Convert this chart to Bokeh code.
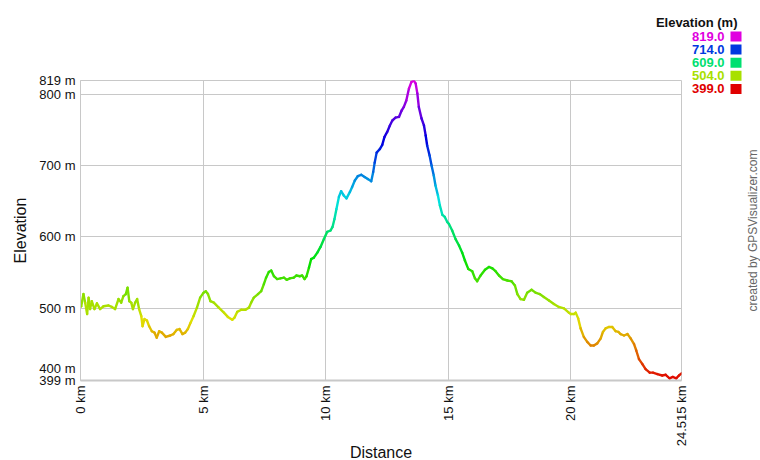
import colorsys
import math
from bokeh.plotting import figure
from bokeh.models import Range1d, FixedTicker, ColumnDataSource, GridBox
from bokeh.core.properties import value
from bokeh.embed import file_html
from bokeh.resources import INLINE

# ---- data ----
distance_km = [
    0.00, 0.03, 0.12, 0.19, 0.27, 0.33, 0.39, 0.46, 0.57, 0.67, 0.80, 0.94, 1.14, 1.28, 1.41,
    1.55, 1.66, 1.75, 1.85, 1.92, 1.99, 2.07, 2.14, 2.23, 2.31, 2.39, 2.48, 2.53, 2.61, 2.71,
    2.80, 2.91, 3.02, 3.11, 3.21, 3.32, 3.48, 3.66, 3.79, 3.93, 4.04, 4.16, 4.27, 4.38, 4.49,
    4.61, 4.75, 4.88, 5.02, 5.11, 5.20, 5.30, 5.44, 5.64, 5.85, 6.01, 6.19, 6.28, 6.39, 6.56,
    6.73, 6.87, 6.96, 7.07, 7.24, 7.37, 7.48, 7.57, 7.68, 7.78, 7.89, 8.02, 8.16, 8.30, 8.41,
    8.54, 8.70, 8.81, 8.95, 9.04, 9.14, 9.22, 9.32, 9.41, 9.52, 9.66, 9.79, 9.93, 10.06, 10.20,
    10.28, 10.36, 10.44, 10.54, 10.63, 10.74, 10.85, 10.99, 11.08, 11.19, 11.31, 11.45, 11.59,
    11.72, 11.86, 11.94, 12.00, 12.08, 12.21, 12.31, 12.40, 12.51, 12.62, 12.72, 12.85, 12.99,
    13.10, 13.19, 13.29, 13.40, 13.50, 13.59, 13.67, 13.74, 13.80, 13.91, 14.01, 14.08, 14.14,
    14.24, 14.32, 14.41, 14.48, 14.58, 14.66, 14.76, 14.86, 14.96, 15.03, 15.16, 15.30, 15.44,
    15.57, 15.68, 15.82, 15.98, 16.09, 16.18, 16.32, 16.50, 16.66, 16.80, 16.93, 17.07, 17.23,
    17.41, 17.58, 17.72, 17.82, 17.95, 18.09, 18.22, 18.40, 18.56, 18.73, 18.90, 19.11, 19.31,
    19.51, 19.72, 19.92, 20.00, 20.13, 20.20, 20.30, 20.40, 20.53, 20.67, 20.81, 20.94, 21.08,
    21.22, 21.31, 21.42, 21.56, 21.69, 21.83, 21.94, 22.03, 22.17, 22.31, 22.44, 22.58, 22.67,
    22.78, 22.92, 23.05, 23.22, 23.35, 23.53, 23.73, 23.87, 24.03, 24.16, 24.30, 24.41, 24.515,
]
elevation_m = [
    502, 503, 520, 508, 492, 515, 499, 510, 499, 507, 499, 503, 504, 502, 499,
    513, 508, 517, 520, 529, 510, 508, 499, 508, 513, 499, 489, 475, 485, 483,
    475, 468, 466, 459, 468, 466, 460, 462, 464, 470, 471, 464, 466, 471, 480,
    489, 501, 515, 522, 524, 520, 510, 508, 501, 494, 488, 484, 487, 495, 498,
    498, 501, 508, 515, 520, 524, 534, 543, 551, 553, 545, 541, 542, 543, 540,
    542, 543, 546, 545, 546, 541, 545, 557, 569, 571, 578, 586, 597, 607, 609,
    614, 625, 639, 656, 664, 658, 654, 663, 670, 679, 685, 687, 684,
    681, 678, 691, 704, 718, 723, 729, 740, 747, 756, 763, 767, 768,
    777, 782, 791, 808, 817, 819, 815, 801, 782, 766, 756, 742, 728,
    714, 700, 686, 672, 658, 644, 631, 628, 621, 618, 609, 597, 588,
    578, 567, 555, 552, 542, 538, 546, 554, 558, 556, 552, 546, 541,
    539, 538, 532, 520, 513, 512, 522, 526, 522, 520, 516, 511, 506,
    502, 500, 494, 492, 492, 494, 486, 472, 460, 453, 448, 448, 451,
    458, 467, 472, 474, 474, 468, 467, 464, 462, 464, 458, 450, 441,
    429, 422, 415, 410, 410, 408, 406, 407, 402, 404, 402, 406, 409,
]

x_ticks = [0, 5, 10, 15, 20, 24.515]
x_tick_labels = ["0 km", "5 km", "10 km", "15 km", "20 km", "24.515 km"]
y_ticks = [399, 500, 600, 700, 800, 819]
y_tick_labels = ["399 m", "500 m", "600 m", "700 m", "800 m", "819 m"]
y_extra_tick = 400
y_extra_label = "400 m"
legend_values = [819.0, 714.0, 609.0, 504.0, 399.0]
legend_title = "Elevation (m)"
x_title = "Distance"
y_title = "Elevation"
credit = "created by GPSVisualizer.com"

E_MIN, E_MAX = 399.0, 819.0
X_MAX = 24.515
FONT = "Liberation Sans"
GRID = "#c8c8c8"
TXT = "#111111"
W, H = 760, 460
L, R, T, B = 80, 79, 80, 80   # borders around the plotting frame


def elev_color(e):
    f = min(1.0, max(0.0, (e - E_MIN) / (E_MAX - E_MIN)))
    r, g, b = colorsys.hsv_to_rgb(f * 300.0 / 360.0, 1.0, 0.88)
    return "#%02x%02x%02x" % (round(r * 255), round(g * 255), round(b * 255))


# ---------------- main chart ----------------
p = figure(width=W, height=H, output_backend="svg", toolbar_location=None,
           x_range=Range1d(0, X_MAX), y_range=Range1d(E_MIN, E_MAX),
           min_border_left=L, min_border_right=R, min_border_top=T, min_border_bottom=B)
p.background_fill_color = "white"
p.border_fill_color = "white"
p.outline_line_color = GRID
p.outline_line_width = 1

p.xgrid.ticker = FixedTicker(ticks=x_ticks)
p.ygrid.ticker = FixedTicker(ticks=y_ticks)
for g in (p.xgrid, p.ygrid):
    g.grid_line_color = GRID
    g.grid_line_width = 1

xa = p.xaxis[0]
xa.ticker = FixedTicker(ticks=x_ticks)
xa.major_label_overrides = {t: l for t, l in zip(x_ticks, x_tick_labels)}
xa.major_label_orientation = math.pi / 2
ya = p.yaxis[0]
ya.ticker = FixedTicker(ticks=y_ticks)
ya.major_label_overrides = {t: l for t, l in zip(y_ticks, y_tick_labels)}
for ax in (xa, ya):
    ax.major_tick_line_color = None
    ax.minor_tick_line_color = None
    ax.major_tick_out = 0
    ax.major_tick_in = 0
    ax.minor_tick_out = 0
    ax.minor_tick_in = 0
    ax.axis_line_color = GRID
    ax.major_label_text_font = FONT
    ax.major_label_text_font_size = "13px"
    ax.major_label_text_color = TXT
    ax.major_label_standoff = 5
    ax.axis_label_text_font = FONT
    ax.axis_label_text_font_size = "16px"
    ax.axis_label_text_font_style = "normal"
    ax.axis_label_text_color = TXT
xa.axis_line_width = 2
ya.axis_label = y_title
ya.axis_label_standoff = 7

# coloured profile: one short segment per pair of points, coloured by elevation
xs, ys, cols = [], [], []
for i in range(len(distance_km) - 1):
    xs.append([distance_km[i], distance_km[i + 1]])
    ys.append([elevation_m[i], elevation_m[i + 1]])
    cols.append(elev_color((elevation_m[i] + elevation_m[i + 1]) / 2.0))
p.multi_line(xs="xs", ys="ys", line_color="c", line_width=2.4, line_cap="round",
             line_join="round", source=ColumnDataSource(dict(xs=xs, ys=ys, c=cols)))

# ---------------- overlay for texts outside the plotting frame ----------------
# canvas-pixel coordinates (y measured downward from the top of the picture)
o = figure(width=W, height=H, output_backend="svg", toolbar_location=None,
           x_range=Range1d(0, W), y_range=Range1d(H, 0),
           x_axis_location=None, y_axis_location=None, min_border=0)
o.grid.visible = False
o.outline_line_color = None
o.background_fill_color = None
o.border_fill_color = None
o.background_fill_alpha = 0
o.border_fill_alpha = 0
for fig in (p, o):
    if "frame_align" in fig.properties():
        fig.frame_align = False

FONT_V = value(FONT)

# extra y tick label "400 m", nudged 11px above its tick (as in the reference)
y400 = T + (E_MAX - y_extra_tick) / (E_MAX - E_MIN) * (H - T - B) - 11
o.text(x=[L - 5], y=[y400], text=[y_extra_label], text_align="right",
       text_baseline="middle", text_font=FONT_V, text_font_size="13px",
       text_color=TXT)

# x axis title
o.text(x=[L + (W - L - R) / 2.0], y=[452], text=[x_title], text_align="center",
       text_baseline="middle", text_font=FONT_V, text_font_size="16px", text_color=TXT)

# legend
o.text(x=[737], y=[21.5], text=[legend_title], text_align="right", text_baseline="middle",
       text_font=FONT_V, text_font_size="13px", text_font_style="bold",
       text_color=TXT)
leg_y = [36 + 13.1 * i for i in range(len(legend_values))]
leg_c = [elev_color(v) for v in legend_values]
o.text(x=[724] * len(legend_values), y=leg_y, text=["%.1f" % v for v in legend_values],
       text_align="right", text_baseline="middle", text_font=FONT_V,
       text_font_size="13px", text_font_style="bold", text_color=leg_c)
o.rect(x=[735.5] * len(legend_values), y=leg_y, width=11, height=10,
       fill_color=leg_c, line_color=None)

# credit
o.text(x=[752], y=[230], text=[credit], angle=math.pi / 2, text_align="center",
       text_baseline="middle", text_font=FONT_V, text_font_size="12px",
       text_color="#666666")

layout = GridBox(children=[(p, 0, 0), (o, 0, 0)])

open("out.html", "w").write(file_html(layout, INLINE))
